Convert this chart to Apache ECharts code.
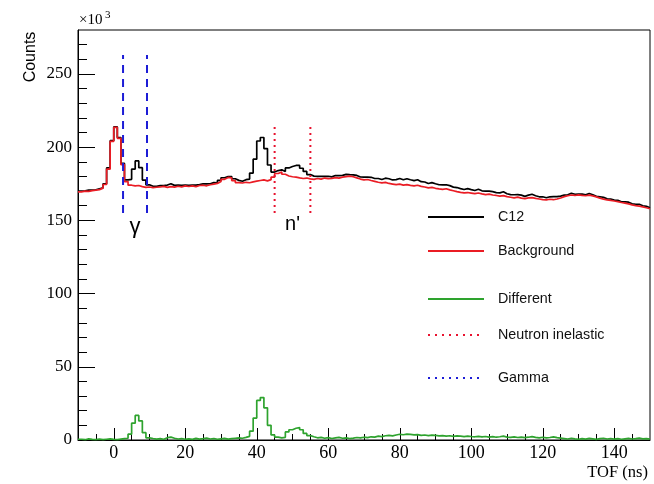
<!DOCTYPE html>
<html>
<head>
<meta charset="utf-8">
<script src="https://cdn.jsdelivr.net/npm/echarts@6/dist/echarts.min.js"></script>
<style>
  html, body { margin: 0; padding: 0; background: #ffffff; }
  #chart { width: 654px; height: 484px; }
</style>
</head>
<body>
<div id="chart"></div>
<script>
// TOF histograms, 1 ns bins starting at -10 ns (counts in units of 10^3)
const binStart = -10;
const binWidth = 1;

const c12 = [
  170.0, 170.2, 170.6, 170.7, 170.9, 171.6, 172.2, 175.0, 185.8, 204.4,
  213.8, 206.6, 188.9, 177.7, 178.0, 185.0, 190.6, 186.0, 177.5, 174.3,
  173.3, 173.2, 173.7, 173.7, 174.1, 175.0, 173.9, 174.0, 173.9, 174.0,
  173.9, 174.0, 174.1, 174.4, 174.9, 174.9, 175.0, 175.8, 175.7, 177.3,
  179.1, 179.9, 179.9, 178.4, 177.3, 176.7, 177.8, 178.2, 182.3, 191.8,
  204.2, 206.6, 199.0, 187.8, 183.0, 184.0, 184.5, 183.3, 185.8, 186.8,
  187.5, 187.5, 185.6, 183.4, 181.3, 180.2, 180.1, 180.0, 180.1, 180.1,
  179.7, 180.6, 180.6, 180.7, 181.4, 181.2, 181.1, 180.7, 179.6, 179.5,
  179.5, 179.4, 178.6, 178.6, 177.9, 178.8, 178.4, 177.6, 177.8, 178.6,
  177.7, 178.4, 177.7, 177.1, 177.7, 176.4, 176.2, 175.2, 175.8, 175.0,
  174.3, 174.2, 174.3, 173.7, 172.7, 172.4, 171.7, 171.1, 171.7, 171.0,
  170.4, 171.2, 170.2, 170.0, 169.9, 169.6, 168.9, 168.8, 169.5, 168.2,
  167.6, 167.5, 167.6, 167.2, 166.4, 167.2, 167.8, 166.8, 166.1, 166.1,
  165.4, 166.1, 166.2, 166.2, 166.6, 167.2, 167.5, 168.5, 167.8, 167.9,
  168.0, 167.4, 168.3, 167.5, 166.4, 166.1, 165.7, 164.7, 164.6, 163.8,
  163.7, 162.7, 162.6, 162.4, 161.3, 161.0, 161.0, 160.0, 159.6, 158.6
];

const background = [
  169.5, 170.0, 169.8, 170.3, 170.6, 171.0, 172.0, 174.5, 185.0, 204.0,
  213.5, 206.0, 188.0, 176.5, 174.0, 173.5, 173.8, 173.0, 172.5, 172.8,
  172.3, 172.6, 172.8, 173.2, 172.5, 173.0, 172.7, 173.3, 172.9, 173.5,
  173.1, 173.6, 173.0, 173.8, 174.0, 173.6, 174.3, 174.8, 175.2, 176.5,
  178.0, 179.3, 179.0, 177.2, 175.8, 175.5, 176.0, 175.7, 176.3, 176.8,
  177.2, 177.6, 177.0, 177.8, 179.5, 182.0, 183.0, 181.5, 180.3, 179.8,
  179.5, 179.0, 178.6, 178.9, 178.3, 178.0, 178.6, 178.2, 178.9, 178.5,
  178.7, 179.2, 178.8, 179.5, 179.9, 180.2, 179.8, 179.0, 178.2, 177.6,
  177.9, 177.2, 176.6, 176.0, 175.6, 175.9, 175.2, 174.8, 174.4, 174.7,
  174.1, 174.4, 173.9, 173.6, 174.0, 173.2, 172.8, 172.2, 172.5, 171.9,
  171.5, 171.2, 171.6, 170.8, 170.2, 169.6, 169.1, 168.8, 169.0, 168.6,
  168.2, 168.7, 168.1, 167.6, 167.9, 167.3, 167.0, 166.6, 166.9, 166.2,
  165.8, 165.4, 165.9, 165.2, 164.8, 165.3, 165.5, 165.0, 164.6, 164.2,
  164.0, 164.4, 164.1, 164.6, 165.3, 166.2, 166.8, 167.3, 167.0, 167.4,
  167.1, 166.8, 167.2, 166.7, 166.0, 165.2, 164.5, 164.0, 163.6, 163.2,
  162.8, 162.2, 161.8, 161.3, 160.6, 160.1, 159.7, 159.2, 158.6, 157.9
];

const different = [
  0.5, 0.2, 0.8, 0.4, 0.3, 0.6, 0.2, 0.5, 0.8, 0.4,
  0.3, 0.6, 0.9, 1.2, 4.0, 11.5, 16.8, 13.0, 5.0, 1.5,
  1.0, 0.6, 0.9, 0.5, 1.6, 2.0, 1.2, 0.7, 1.0, 0.5,
  0.8, 0.4, 1.1, 0.6, 0.9, 1.3, 0.7, 1.0, 0.5, 0.8,
  1.1, 0.6, 0.9, 1.2, 1.5, 1.2, 1.8, 2.5, 6.0, 15.0,
  27.0, 29.0, 22.0, 10.0, 3.5, 2.0, 1.5, 1.8, 5.5, 7.0,
  8.0, 8.5, 7.0, 4.5, 3.0, 2.2, 1.5, 1.8, 1.2, 1.6,
  1.0, 1.4, 1.8, 1.2, 1.5, 1.0, 1.3, 1.7, 1.4, 1.9,
  1.6, 2.2, 2.0, 2.6, 2.3, 2.9, 3.2, 2.8, 3.4, 3.9,
  3.6, 4.0, 3.8, 3.5, 3.7, 3.2, 3.4, 3.0, 3.3, 3.1,
  2.8, 3.0, 2.7, 2.9, 2.5, 2.8, 2.6, 2.3, 2.7, 2.4,
  2.2, 2.5, 2.1, 2.4, 2.0, 2.3, 1.9, 2.2, 2.6, 2.0,
  1.8, 2.1, 1.7, 2.0, 1.6, 1.9, 2.3, 1.8, 1.5, 1.9,
  1.4, 1.7, 2.1, 1.6, 1.3, 1.0, 0.7, 1.2, 0.8, 0.5,
  0.9, 0.6, 1.1, 0.8, 0.4, 0.9, 1.2, 0.7, 1.0, 0.6,
  0.9, 0.5, 0.8, 1.1, 0.7, 0.9, 1.3, 0.8, 1.0, 0.7
];

// Time windows (ns) and the count range spanned by their marker lines
const gammaWindow = [2.6, 9.3];
const gammaSpan = [155, 263];
const neutronWindow = [45, 55];
const neutronSpan = [155, 214];

// Axis ticks
const xMajorTicks = [0, 20, 40, 60, 80, 100, 120, 140];
const xMinorTicks = [-5, 5, 10, 15, 25, 30, 35, 45, 50, 55, 65, 70, 75, 85, 90, 95,
                     105, 110, 115, 125, 130, 135, 145];
const yMajorTicks = [0, 50, 100, 150, 200, 250];
const yMinorTicks = [10, 20, 30, 40, 60, 70, 80, 90, 110, 120, 130, 140, 160, 170,
                     180, 190, 210, 220, 230, 240, 260, 270];
const xRange = [-10, 150];
const yRange = [0, 280];

// Bin contents -> step outline (low edges plus the closing upper edge)
function toSteps(values) {
  const pts = values.map((v, i) => [binStart + i * binWidth, v]);
  pts.push([binStart + values.length * binWidth, values[values.length - 1]]);
  return pts;
}

const SERIF = '"Liberation Serif", "Times New Roman", serif';
const SANS = '"Liberation Sans", Arial, sans-serif';

const RED = '#ea1c24';
const GREEN = '#2ea32e';
const BLUE = '#1d1dd6';
const DOTRED = '#e8132f';

function histSeries(name, values, color, z) {
  return {
    name: name, type: 'line', step: 'end', data: toSteps(values),
    symbol: 'none', z: z,
    lineStyle: { color: color, width: 1.7 },
    itemStyle: { color: color }
  };
}

function windowSeries(name, x, span, color, dash, z) {
  return {
    name: name, type: 'line', data: [[x, span[0]], [x, span[1]]],
    symbol: 'none', z: z,
    lineStyle: { color: color, width: 2, type: dash },
    itemStyle: { color: color }
  };
}

function legendEntry(name, top, lineStyle) {
  const item = { name: name };
  if (lineStyle) item.lineStyle = lineStyle;
  return {
    data: [item], left: 427, top: top, orient: 'vertical', padding: 0,
    itemWidth: 56, itemHeight: 14, selectedMode: false,
    itemStyle: { opacity: 0 },
    textStyle: { fontFamily: SANS, fontSize: 14.3, color: '#111', padding: [0, 0, 0, 9] }
  };
}

const chart = echarts.init(document.getElementById('chart'), null, { renderer: 'canvas' });

const option = {
  animation: false,
  backgroundColor: '#ffffff',
  grid: {
    left: 78, right: 4, top: 30, bottom: 44,
    show: true, borderColor: '#000', borderWidth: 1, backgroundColor: 'transparent'
  },
  xAxis: [
    {
      type: 'value', min: xRange[0], max: xRange[1], position: 'bottom',
      axisLine: { show: true, onZero: false, lineStyle: { color: '#000', width: 1 } },
      axisTick: { show: true, inside: true, length: 12, customValues: xMajorTicks,
                  lineStyle: { color: '#000', width: 1 } },
      axisLabel: { customValues: xMajorTicks, fontFamily: SERIF, fontSize: 18,
                   color: '#000', margin: 4 },
      splitLine: { show: false }
    },
    {
      type: 'value', min: xRange[0], max: xRange[1], position: 'bottom',
      axisLine: { show: false, onZero: false },
      axisTick: { show: true, inside: true, length: 6, customValues: xMinorTicks,
                  lineStyle: { color: '#000', width: 1 } },
      axisLabel: { show: false },
      splitLine: { show: false }
    }
  ],
  yAxis: [
    {
      type: 'value', min: yRange[0], max: yRange[1], position: 'left',
      axisLine: { show: true, onZero: false, lineStyle: { color: '#000', width: 1 } },
      axisTick: { show: true, inside: true, length: 17, customValues: yMajorTicks,
                  lineStyle: { color: '#000', width: 1 } },
      axisLabel: { customValues: yMajorTicks, fontFamily: SERIF, fontSize: 17,
                   color: '#000', margin: 6 },
      splitLine: { show: false }
    },
    {
      type: 'value', min: yRange[0], max: yRange[1], position: 'left',
      axisLine: { show: false, onZero: false },
      axisTick: { show: true, inside: true, length: 9, customValues: yMinorTicks,
                  lineStyle: { color: '#000', width: 1 } },
      axisLabel: { show: false },
      splitLine: { show: false }
    }
  ],
  legend: [
    legendEntry('C12', 210),
    legendEntry('Background', 244),
    legendEntry('Different', 292),
    legendEntry('Neutron inelastic', 328, { type: [2, 5], width: 2 }),
    legendEntry('Gamma', 371, { type: [2, 5], width: 2 })
  ],
  series: [
    histSeries('C12', c12, '#000000', 3),
    histSeries('Background', background, RED, 4),
    histSeries('Different', different, GREEN, 5),
    windowSeries('Neutron inelastic', neutronWindow[0], neutronSpan, DOTRED, [2, 4], 6),
    windowSeries('Neutron inelastic', neutronWindow[1], neutronSpan, DOTRED, [2, 4], 6),
    windowSeries('Gamma', gammaWindow[0], gammaSpan, BLUE, [8, 6], 6),
    windowSeries('Gamma', gammaWindow[1], gammaSpan, BLUE, [8, 6], 6)
  ]
};

chart.setOption(option);

// Window labels placed under the marker lines, plus axis titles
const gammaLabelAt = chart.convertToPixel({ gridIndex: 0 }, [(gammaWindow[0] + gammaWindow[1]) / 2, 145.5]);
const neutronLabelAt = chart.convertToPixel({ gridIndex: 0 }, [(neutronWindow[0] + neutronWindow[1]) / 2, 147]);

chart.setOption({
  graphic: [
    {
      type: 'text', x: 31, y: 57, rotation: Math.PI / 2,
      style: { text: 'Counts', font: '16px ' + SANS, fill: '#000',
               align: 'center', verticalAlign: 'middle' }
    },
    {
      type: 'text', x: 79, y: 28,
      style: { text: '\u00d710', font: '15px ' + SERIF, fill: '#000',
               align: 'left', verticalAlign: 'bottom' }
    },
    {
      type: 'text', x: 105, y: 21,
      style: { text: '3', font: '11px ' + SERIF, fill: '#000',
               align: 'left', verticalAlign: 'bottom' }
    },
    {
      type: 'text', x: 648, y: 473,
      style: { text: 'TOF (ns)', font: '16.5px ' + SERIF, fill: '#000',
               align: 'right', verticalAlign: 'middle' }
    },
    {
      type: 'text', x: gammaLabelAt[0], y: gammaLabelAt[1],
      style: { text: '\u03b3', font: '22px ' + SANS, fill: '#000',
               align: 'center', verticalAlign: 'middle' }
    },
    {
      type: 'text', x: neutronLabelAt[0], y: neutronLabelAt[1],
      style: { text: "n'", font: '20px ' + SANS, fill: '#000',
               align: 'center', verticalAlign: 'middle' }
    }
  ]
});
</script>
</body>
</html>
